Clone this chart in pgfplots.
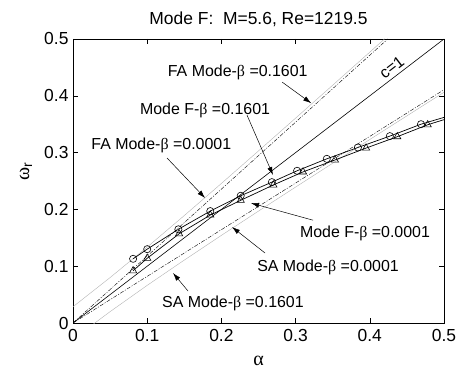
\documentclass[border=0pt]{standalone}
\usepackage{fontspec}
\setmainfont{Liberation Sans}
\newfontfamily\grk{Liberation Serif}
\usepackage{pgfplots}
\pgfplotsset{compat=1.18}
\usetikzlibrary{arrows.meta}
\begin{document}
\begin{tikzpicture}
\useasboundingbox (-73bp,-51bp) rectangle (386bp,323bp);
\begin{axis}[
  at={(0,0)}, anchor=south west,
  scale only axis, width=371bp, height=284bp,
  xmin=0, xmax=0.5, ymin=0, ymax=0.5,
  xtick={0,0.1,0.2,0.3,0.4,0.5},
  ytick={0,0.1,0.2,0.3,0.4,0.5},
  tick align=inside, major tick length=5bp,
  tick style={black, line width=0.5pt},
  axis line style={line width=0.6pt},
  font=\fontsize{17.5}{20}\selectfont,
  /pgf/number format/assume math mode=true,
  xticklabel style={yshift=-3bp},
  yticklabel style={xshift=-1bp},
  clip=true,
]
% FA / SA asymptotes
\addplot[black, thin, dash pattern=on 4pt off 1.5pt on 1pt off 1.5pt] coordinates {(0,0) (0.4242,0.5)};
\addplot[black, thin, dash pattern=on 4pt off 1.5pt on 1pt off 1.5pt] coordinates {(0,0) (0.5,0.4107)};
\addplot[gray!60, thin] coordinates {(0,0.0286) (0.05,0.0800) (0.1,0.1337) (0.15,0.1892) (0.2,0.2457) (0.25,0.3030) (0.3,0.3607) (0.35,0.4187) (0.4,0.4769) (0.42,0.5003)};
\addplot[gray!60, thin] coordinates {(0,-0.0286) (0.05,0.0200) (0.1,0.0663) (0.15,0.1108) (0.2,0.1543) (0.25,0.1970) (0.3,0.2393) (0.35,0.2813) (0.4,0.3231) (0.45,0.3647) (0.5,0.4062)};
% c = 1
\addplot[black, line width=0.6pt] coordinates {(0,0) (0.5,0.5)};
% Mode F curves
\addplot[black, line width=0.7pt, mark=o, mark size=3.6bp, mark options={solid, line width=0.6pt}] coordinates {
(0.081,0.113) (0.100,0.130) (0.142,0.165) (0.185,0.197) (0.226,0.224) (0.268,0.248) (0.302,0.268) (0.342,0.289) (0.384,0.309) (0.427,0.329) (0.469,0.350)};
\addplot[black, line width=0.7pt] coordinates {(0.469,0.350) (0.5,0.362)};
\addplot[black, line width=0.7pt, mark=triangle, mark size=4.2bp, mark options={solid, line width=0.6pt}] coordinates {
(0.081,0.092) (0.100,0.114) (0.143,0.157) (0.185,0.190) (0.226,0.216) (0.270,0.243) (0.310,0.266) (0.353,0.287) (0.395,0.308) (0.437,0.328) (0.478,0.349)};
\addplot[black, line width=0.7pt] coordinates {(0.478,0.349) (0.5,0.358)};
% annotations
\begin{scope}[every node/.style={font=\fontsize{16}{19}\selectfont, inner sep=0pt}]
\node at (axis cs:0.222,0.442) {FA Mode-{\grk β} =0.1601};
\draw[-{Latex[length=8bp,width=5bp]}, line width=0.5pt] (axis cs:0.282,0.424) -- (axis cs:0.321,0.387);
\node at (axis cs:0.178,0.375) {Mode F-{\grk β} =0.1601};
\draw[-{Latex[length=8bp,width=5bp]}, line width=0.5pt] (axis cs:0.2345,0.366) -- (axis cs:0.2695,0.2606);
\node[rotate=37.4, anchor=south, inner sep=3.5bp] at (axis cs:0.437,0.437) {c=1};
\node at (axis cs:0.119,0.312) {FA Mode-{\grk β} =0.0001};
\draw[-{Latex[length=8bp,width=5bp]}, line width=0.5pt] (axis cs:0.1267,0.2905) -- (axis cs:0.178,0.220);
\node at (axis cs:0.3935,0.157) {Mode F-{\grk β} =0.0001};
\draw[-{Latex[length=8bp,width=5bp]}, line width=0.5pt] (axis cs:0.3235,0.181) -- (axis cs:0.240,0.211);
\node at (axis cs:0.3437,0.097) {SA Mode-{\grk β} =0.0001};
\draw[-{Latex[length=8bp,width=5bp]}, line width=0.5pt] (axis cs:0.2588,0.1232) -- (axis cs:0.2143,0.169);
\node at (axis cs:0.2156,0.0352) {SA Mode-{\grk β} =0.1601};
\draw[-{Latex[length=8bp,width=5bp]}, line width=0.5pt] (axis cs:0.155,0.0563) -- (axis cs:0.1348,0.088);
\end{scope}
\end{axis}
\node[anchor=base, font=\fontsize{17.5}{20}\selectfont] at (185.5bp,298bp) {Mode F:\ \ M=5.6, Re=1219.5};
\node[font=\fontsize{20}{22}\selectfont] at (185.5bp,-38bp) {\grk α};
\node[rotate=90, font=\fontsize{20}{22}\selectfont] at (-47bp,152bp) {{\grk ω}\textsubscript{r}};
\end{tikzpicture}
\end{document}
